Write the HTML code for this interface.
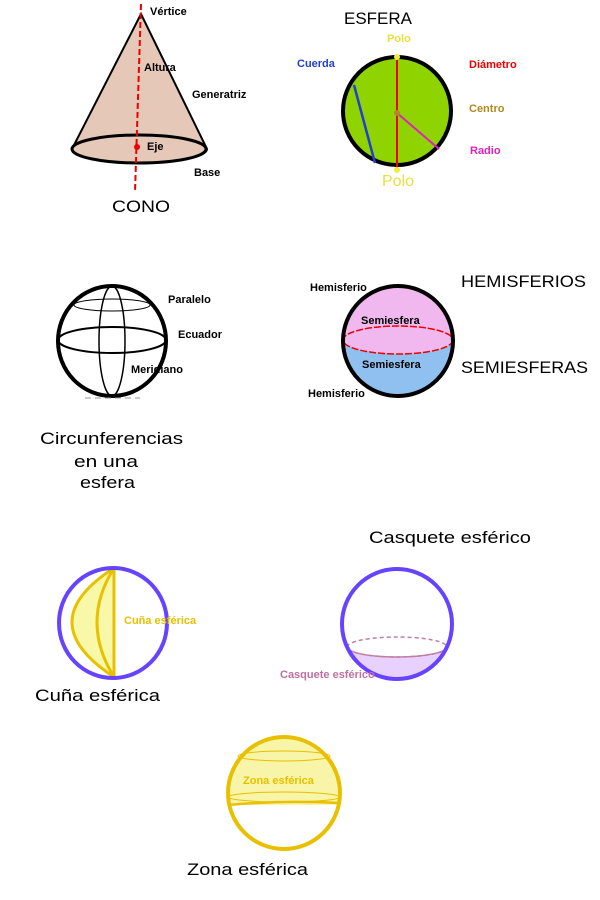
<!DOCTYPE html>
<html><head><meta charset="utf-8"><style>
html,body{margin:0;padding:0;background:#fff;}
svg{display:block;}
text{font-family:"Liberation Sans",sans-serif;}
.b{font-weight:bold;font-size:11px;}
.t{font-size:17px;}
</style></head><body>
<svg width="600" height="900" viewBox="0 0 600 900">
<defs>
<clipPath id="zc"><rect x="200" y="700" width="200" height="105"/></clipPath>
<clipPath id="cc"><rect x="300" y="647" width="200" height="60"/></clipPath>
<clipPath id="hb"><rect x="300" y="340" width="200" height="80"/></clipPath>
</defs>
<!-- CONO -->
<path d="M141,14 L72,149 A67,14 0 0 0 207,149 Z" fill="#e6c8b8" stroke="#000" stroke-width="2"/>
<ellipse cx="139" cy="149" rx="67" ry="14" fill="#e6c8b8" stroke="#000" stroke-width="3"/>
<line x1="141" y1="4" x2="135" y2="192" stroke="#e00" stroke-width="2" stroke-dasharray="6,3"/>
<circle cx="137" cy="147" r="3" fill="#e00"/>
<text class="b" x="150" y="15">Vértice</text>
<text class="b" x="144" y="71">Altura</text>
<text class="b" x="192" y="98">Generatriz</text>
<text class="b" x="147" y="150">Eje</text>
<text class="b" x="194" y="176">Base</text>
<text class="t" x="112" y="212" textLength="58" lengthAdjust="spacingAndGlyphs">CONO</text>
<!-- ESFERA -->
<circle cx="397" cy="111" r="54" fill="#8fd400" stroke="#000" stroke-width="4"/>
<line x1="397" y1="57" x2="397" y2="168" stroke="#e00" stroke-width="2"/>
<line x1="354" y1="85" x2="375" y2="163" stroke="#2040d0" stroke-width="2.5"/>
<line x1="397" y1="113" x2="439" y2="149" stroke="#e020c0" stroke-width="2"/>
<circle cx="397" cy="113" r="3" fill="#b08a20"/>
<circle cx="397" cy="57" r="3" fill="#eeee40"/>
<circle cx="397" cy="170" r="3" fill="#eeee40"/>
<text class="t" x="344" y="24">ESFERA</text>
<text class="b" x="387" y="42" fill="#e8e040">Polo</text>
<text x="382" y="186" font-size="16" fill="#e8e040">Polo</text>
<text class="b" x="297" y="67" fill="#2040d0">Cuerda</text>
<text class="b" x="469" y="68" fill="#e00">Diámetro</text>
<text class="b" x="469" y="112" fill="#b08a20">Centro</text>
<text class="b" x="470" y="154" fill="#e020c0">Radio</text>
<!-- Circunferencias -->
<ellipse cx="112" cy="341" rx="54" ry="55" fill="none" stroke="#000" stroke-width="4"/>
<ellipse cx="112" cy="305" rx="38" ry="6" fill="none" stroke="#000" stroke-width="1"/>
<ellipse cx="112" cy="340" rx="54" ry="13" fill="none" stroke="#000" stroke-width="2"/>
<ellipse cx="112" cy="341" rx="13" ry="55" fill="none" stroke="#000" stroke-width="1.5"/>
<line x1="85" y1="398" x2="140" y2="398" stroke="#999" stroke-dasharray="6,4"/>
<text class="b" x="168" y="303">Paralelo</text>
<text class="b" x="178" y="338">Ecuador</text>
<text class="b" x="131" y="373">Meridiano</text>
<text class="t" x="40" y="444" textLength="143" lengthAdjust="spacingAndGlyphs">Circunferencias</text>
<text class="t" x="74" y="467" textLength="64" lengthAdjust="spacingAndGlyphs">en una</text>
<text class="t" x="80" y="488" textLength="55" lengthAdjust="spacingAndGlyphs">esfera</text>
<!-- Hemisferios -->
<ellipse cx="398" cy="341" rx="55" ry="55" fill="#f0b8ee"/>
<ellipse cx="398" cy="341" rx="55" ry="55" fill="#90c0f0" clip-path="url(#hb)"/>
<ellipse cx="398" cy="340" rx="55" ry="14" fill="#f0b8ee" stroke="#e00" stroke-width="1.5" stroke-dasharray="7,2"/>
<ellipse cx="398" cy="341" rx="55" ry="55" fill="none" stroke="#000" stroke-width="4"/>
<text class="b" x="310" y="291">Hemisferio</text>
<text class="b" x="361" y="324">Semiesfera</text>
<text class="b" x="362" y="368">Semiesfera</text>
<text class="b" x="308" y="397">Hemisferio</text>
<text class="t" x="461" y="287" textLength="125" lengthAdjust="spacingAndGlyphs">HEMISFERIOS</text>
<text class="t" x="461" y="373" textLength="127" lengthAdjust="spacingAndGlyphs">SEMIESFERAS</text>
<!-- Cuña -->
<path d="M114,568 Q30,622 114,677 Z" fill="#f8f8a8" stroke="#e8c000" stroke-width="3"/>
<path d="M114,568 Q80,622 114,677" fill="none" stroke="#e8c000" stroke-width="3"/>
<ellipse cx="113" cy="623" rx="54" ry="55" fill="none" stroke="#6644ff" stroke-width="4"/>
<text class="b" x="124" y="624" fill="#e8c000">Cuña esférica</text>
<text class="t" x="35" y="701" textLength="125" lengthAdjust="spacingAndGlyphs">Cuña esférica</text>
<!-- Casquete -->
<ellipse cx="397" cy="624" rx="55" ry="55" fill="#e8d0ff" clip-path="url(#cc)"/>
<ellipse cx="397" cy="647" rx="50" ry="10" fill="#fff" stroke="#c080a0" stroke-width="1.5" stroke-dasharray="4,3"/>
<path d="M347,647 A50,10 0 0 0 447,647" fill="none" stroke="#c080a0" stroke-width="1.5"/>
<ellipse cx="397" cy="624" rx="55" ry="55" fill="none" stroke="#6644ff" stroke-width="4"/>
<text class="b" x="280" y="678" fill="#c070a0">Casquete esférico</text>
<text class="t" x="369" y="543" textLength="162" lengthAdjust="spacingAndGlyphs">Casquete esférico</text>
<!-- Zona -->
<ellipse cx="284" cy="793" rx="56" ry="56" fill="#f8f4a8" clip-path="url(#zc)"/>
<ellipse cx="284" cy="756" rx="46" ry="5" fill="none" stroke="#e8c000" stroke-width="1"/>
<ellipse cx="284" cy="797" rx="56" ry="5" fill="none" stroke="#e8c000" stroke-width="1"/>
<path d="M228,805 Q284,800 340,803" fill="none" stroke="#e8c000" stroke-width="2.5"/>
<ellipse cx="284" cy="793" rx="56" ry="56" fill="none" stroke="#e8c000" stroke-width="4"/>
<text class="b" x="243" y="784" fill="#e8c000">Zona esférica</text>
<text class="t" x="187" y="875" textLength="121" lengthAdjust="spacingAndGlyphs">Zona esférica</text>
</svg>
</body></html>
